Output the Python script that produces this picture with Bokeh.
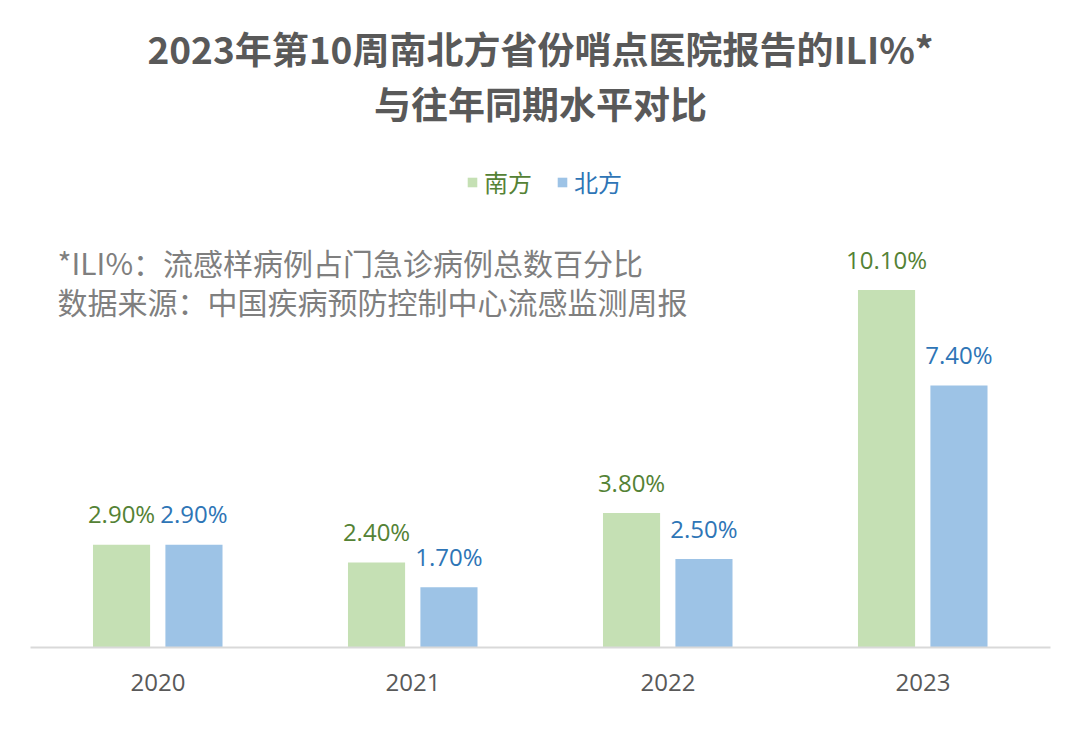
from bokeh.plotting import figure
from bokeh.models import ColumnDataSource, FactorRange, Range1d, Label, LabelSet, Legend, LegendItem
from bokeh.core.properties import value
from bokeh.transform import dodge
from bokeh.embed import file_html
from bokeh.resources import INLINE

years = ["2020", "2021", "2022", "2023"]
south = [2.9, 2.4, 3.8, 10.1]
north = [2.9, 1.7, 2.5, 7.4]
south_labels = ["2.90%", "2.40%", "3.80%", "10.10%"]
north_labels = ["2.90%", "1.70%", "2.50%", "7.40%"]
series_names = ["南方", "北方"]

title_line1 = "2023年第10周南北方省份哨点医院报告的ILI%*"
title_line2 = "与往年同期水平对比"
note_line1 = "*ILI%：流感样病例占门急诊病例总数百分比"
note_line2 = "数据来源：中国疾病预防控制中心流感监测周报"

GREEN = "#C5E0B4"
BLUE = "#9DC3E6"
GREEN_TXT = "#548235"
BLUE_TXT = "#2E75B6"
GRAY = "#595959"

source = ColumnDataSource(dict(year=years, south=south, north=north,
                               south_label=south_labels, north_label=north_labels))

p = figure(width=1080, height=729,
           x_range=FactorRange(*years, range_padding=0),
           y_range=Range1d(0, 18.28),
           output_backend="svg", toolbar_location=None,
           y_axis_location=None,
           min_border_left=30, min_border_right=30,
           min_border_top=0, min_border_bottom=82)

p.outline_line_color = None
p.xgrid.grid_line_color = None
p.ygrid.grid_line_color = None
p.background_fill_color = "white"
p.border_fill_color = "white"

bw = 0.224
r_s = p.vbar(x=dodge("year", -0.143, range=p.x_range), top="south", width=bw,
             source=source, fill_color=GREEN, line_color=None)
r_n = p.vbar(x=dodge("year", 0.141, range=p.x_range), top="north", width=bw,
             source=source, fill_color=BLUE, line_color=None)

p.add_layout(LabelSet(x=dodge("year", -0.143, range=p.x_range), y="south", text="south_label",
                      source=source, text_align="center", text_baseline="middle",
                      y_offset=31, text_font=value("Open Sans"), text_font_size=value("24px"),
                      text_color=GREEN_TXT))
p.add_layout(LabelSet(x=dodge("year", 0.141, range=p.x_range), y="north", text="north_label",
                      source=source, text_align="center", text_baseline="middle",
                      y_offset=31, text_font=value("Open Sans"), text_font_size=value("24px"),
                      text_color=BLUE_TXT))

ax = p.xaxis[0]
ax.axis_line_color = "#D9D9D9"
ax.axis_line_width = 2
ax.major_tick_line_color = None
ax.minor_tick_line_color = None
ax.major_tick_out = 0
ax.major_tick_in = 0
ax.major_label_standoff = 26
ax.major_label_text_font = "Open Sans"
ax.major_label_text_font_size = "24px"
ax.major_label_text_color = GRAY

# titles
p.add_layout(Label(x=2.0, y=16.95, text=title_line1, text_align="center", text_baseline="middle",
                   text_font="Noto Sans CJK SC", text_font_style="bold", text_font_size="37px",
                   text_color=GRAY))
p.add_layout(Label(x=2.0, y=15.37, text=title_line2, text_align="center", text_baseline="middle",
                   text_font="Noto Sans CJK SC", text_font_style="bold", text_font_size="37px",
                   text_color=GRAY))
# notes
p.add_layout(Label(x=0.106, y=10.88, text=note_line1, text_align="left", text_baseline="middle",
                   text_font="Noto Sans CJK SC", text_font_size="30px", text_color="#7F7F7F"))
p.add_layout(Label(x=0.106, y=9.80, text=note_line2, text_align="left", text_baseline="middle",
                   text_font="Noto Sans CJK SC", text_font_size="30px", text_color="#7F7F7F"))

# legends
for rend, name, col, loc in [(r_s, series_names[0], GREEN_TXT, (436, 448)),
                             (r_n, series_names[1], BLUE_TXT, (526, 448))]:
    lg = Legend(items=[LegendItem(label=name, renderers=[rend])], location=loc,
                orientation="horizontal", glyph_width=12, glyph_height=12,
                label_standoff=6, padding=0, margin=0, spacing=0,
                border_line_color=None, background_fill_alpha=0,
                label_text_font="Noto Sans CJK SC", label_text_font_size="24px",
                label_text_color=col)
    p.add_layout(lg)

open("out.html", "w").write(file_html(p, INLINE))
